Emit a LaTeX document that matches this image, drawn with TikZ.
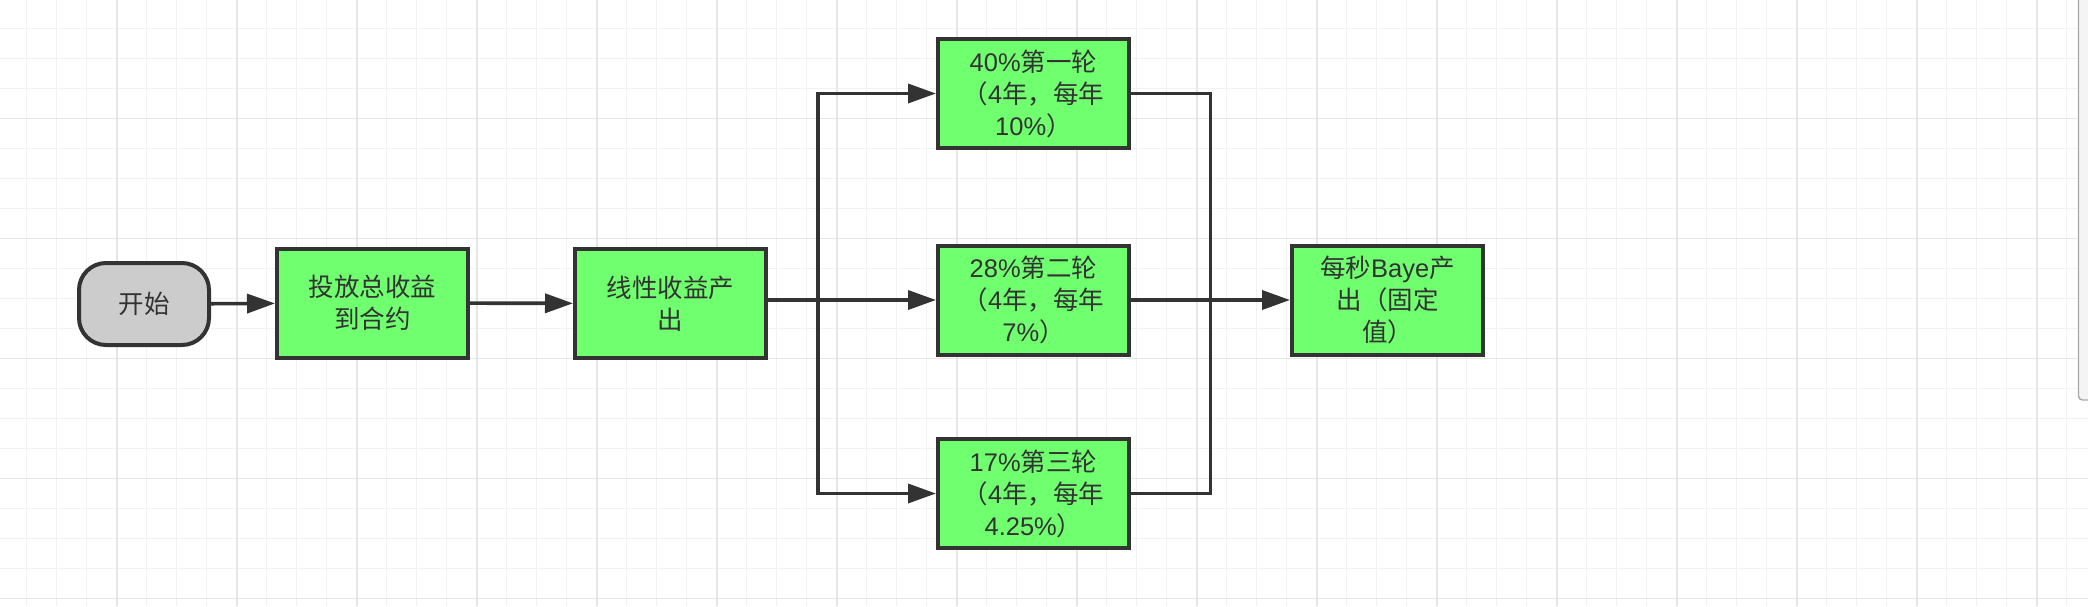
\documentclass[tikz,border=0pt]{standalone}
\usepackage{fontspec}
\setmainfont{Liberation Sans}
\newfontfamily\cjk{Noto Sans CJK SC}
\newfontfamily\lat{Liberation Sans}
\usetikzlibrary{arrows.meta}
\definecolor{boxgreen}{HTML}{6FFF6F}
\definecolor{linec}{HTML}{333333}
\definecolor{startgray}{HTML}{CCCCCC}
\definecolor{gridminor}{HTML}{F2F2F2}
\definecolor{gridmajor}{HTML}{E6E6E6}
\definecolor{scrollfill}{HTML}{F4F4F4}
\definecolor{scrollline}{HTML}{A8A8A8}
\begin{document}
\begin{tikzpicture}[x=1pt,y=-1pt,
  txt/.style={align=center, text=linec, inner sep=0pt, font=\cjk\fontsize{25.5}{32}\selectfont},
  stepbox/.style={txt, draw=linec, line width=4pt, fill=boxgreen, minimum width=191pt, minimum height=109pt},
  startbox/.style={txt, draw=linec, line width=4pt, fill=startgray, rounded corners=27pt, minimum width=130pt, minimum height=82pt},
  conn/.style={draw=linec, line width=3.6pt},
  arr/.style={conn, -{Triangle[length=28pt,width=19pt]}},
  gminor/.style={draw=gridminor, line width=1.3pt},
  gmajor/.style={draw=gridmajor, line width=1.6pt},
]
\fill[white] (0,0) rectangle (2088,606);
\useasboundingbox (0,0) rectangle (2088,606);
\begin{scope}
  \clip (0,0) rectangle (2088,606);
  \foreach \k in {0,...,69} \draw[gminor] ({26.7+30*\k},0) -- ++(0,606);
  \foreach \k in {0,...,19} \draw[gminor] (0,{28.5+30*\k}) -- ++(2088,0);
  \foreach \k in {0,...,16} \draw[gmajor] ({116.7+120*\k},0) -- ++(0,606);
  \foreach \k in {0,...,4} \draw[gmajor] (0,{118.5+120*\k}) -- ++(2088,0);
  \draw[draw=scrollline, fill=scrollfill, line width=1.4pt, rounded corners=4pt] (2078.5,-6) rectangle (2096,400);
\end{scope}

\node[startbox] (start) at (144,304) {开始};
\node[stepbox] (b1) at (372.5,303) {投放总收益\\到合约};
\node[stepbox] (b2) at (670.5,303.5) {线性收益产\\出};
\node[stepbox] (top) at (1033.5,93.5) {{\lat 40\%}第一轮\\（{\lat 4}年，每年\\{\lat 10\%}）};
\node[stepbox] (mid) at (1033.5,300) {{\lat 28\%}第二轮\\（{\lat 4}年，每年\\{\lat 7\%}）};
\node[stepbox] (bot) at (1033.5,493.5) {{\lat 17\%}第三轮\\（{\lat 4}年，每年\\{\lat 4.25\%}）};
\node[stepbox] (fin) at (1387.5,300) {每秒{\lat Baye}产\\出（固定\\值）};

\coordinate (j1) at (818,300);
\coordinate (j2) at (1210.5,300);

\draw[arr] (start) -- (b1);
\draw[arr] (b1) -- (b2);
\draw[arr] (b2.east |- j1) -- (mid.west);
\draw[arr] (j1) |- (top.west);
\draw[arr] (j1) |- (bot.west);
\draw[conn] (top.east) -| (j2);
\draw[conn] (bot.east) -| (j2);
\draw[arr] (mid.east) -- (fin.west);
\end{tikzpicture}
\end{document}
